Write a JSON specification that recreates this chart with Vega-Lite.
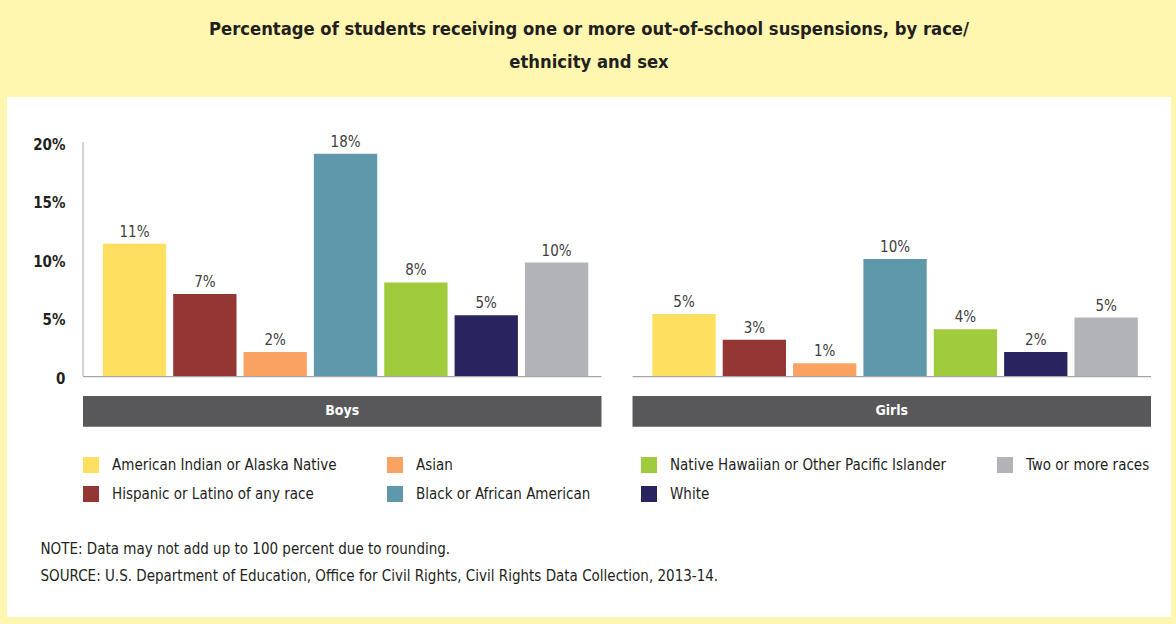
{
  "$schema": "https://vega.github.io/schema/vega-lite/v6.json",
  "width": 1176,
  "height": 624,
  "autosize": {"type": "fit", "contains": "padding"},
  "padding": {"left": 7, "right": 5, "top": 19, "bottom": 7},
  "background": "#FFF7AF",
  "title": {
    "text": ["Percentage of students receiving one or more out-of-school suspensions, by race/", "ethnicity and sex"],
    "fontSize": 18.25,
    "fontWeight": "bold",
    "font": "DejaVu Sans Condensed, Roboto, sans-serif",
    "color": "#231F20",
    "lineHeight": 33,
    "anchor": "middle",
    "offset": 25
  },
  "config": {
    "font": "DejaVu Sans Condensed, Roboto, sans-serif",
    "view": {"stroke": null, "fill": "white"}
  },
  "datasets": {
    "rates": [
      {"sex": "Boys", "race": "American Indian or Alaska Native", "value": 11.3, "label": "11%"},
      {"sex": "Boys", "race": "Hispanic or Latino of any race", "value": 7.0, "label": "7%"},
      {"sex": "Boys", "race": "Asian", "value": 2.05, "label": "2%"},
      {"sex": "Boys", "race": "Black or African American", "value": 19.0, "label": "18%"},
      {"sex": "Boys", "race": "Native Hawaiian or Other Pacific Islander", "value": 8.0, "label": "8%"},
      {"sex": "Boys", "race": "White", "value": 5.2, "label": "5%"},
      {"sex": "Boys", "race": "Two or more races", "value": 9.7, "label": "10%"},
      {"sex": "Girls", "race": "American Indian or Alaska Native", "value": 5.3, "label": "5%"},
      {"sex": "Girls", "race": "Hispanic or Latino of any race", "value": 3.1, "label": "3%"},
      {"sex": "Girls", "race": "Asian", "value": 1.1, "label": "1%"},
      {"sex": "Girls", "race": "Black or African American", "value": 10.0, "label": "10%"},
      {"sex": "Girls", "race": "Native Hawaiian or Other Pacific Islander", "value": 4.0, "label": "4%"},
      {"sex": "Girls", "race": "White", "value": 2.05, "label": "2%"},
      {"sex": "Girls", "race": "Two or more races", "value": 5.0, "label": "5%"}
    ],
    "panels": [{"sex": "Boys"}, {"sex": "Girls"}]
  },
  "layer": [
    {
      "data": {"name": "panels"},
      "mark": {"type": "rect", "color": "#58585A"},
      "encoding": {
        "x": {"field": "sex", "type": "nominal"},
        "y": {"datum": -1.7},
        "y2": {"datum": -4.33}
      }
    },
    {
      "data": {"name": "panels"},
      "mark": {"type": "text", "color": "white", "fontWeight": "bold", "fontSize": 14, "baseline": "middle"},
      "encoding": {
        "x": {"field": "sex", "type": "nominal"},
        "y": {"datum": -3.0},
        "text": {"field": "sex"}
      }
    },
    {
      "data": {"name": "panels"},
      "mark": {"type": "rect", "color": "#A6A6A6"},
      "encoding": {
        "x": {"field": "sex", "type": "nominal"},
        "y": {"datum": 0},
        "y2": {"datum": -0.1}
      }
    },
    {
      "data": {"values": [{"sex": "Boys"}]},
      "mark": {"type": "rule", "color": "#A6A6A6", "strokeWidth": 1},
      "encoding": {
        "x": {"datum": "Boys", "bandPosition": 0},
        "y": {"datum": 0},
        "y2": {"datum": 20}
      }
    },
    {
      "data": {"name": "rates"},
      "mark": {"type": "bar"},
      "encoding": {
        "x": {
          "field": "sex",
          "type": "nominal",
          "scale": {"domain": ["Boys", "Girls"], "range": [76, 1144], "paddingInner": 0.0565, "paddingOuter": 0},
          "axis": {
            "labels": false,
            "ticks": false,
            "domain": false,
            "title": ["NOTE: Data may not add up to 100 percent due to rounding.", "SOURCE: U.S. Department of Education, Office for Civil Rights, Civil Rights Data Collection, 2013-14."],
            "titleFontSize": 15,
            "titleFontWeight": "normal",
            "titleColor": "#231F20",
            "titleLineHeight": 27,
            "titleAnchor": null,
            "titleAlign": "left",
            "titleBaseline": "alphabetic",
            "titleX": 33,
            "titleY": -64
          }
        },
        "xOffset": {
          "field": "race",
          "type": "nominal",
          "scale": {
            "domain": ["American Indian or Alaska Native", "Hispanic or Latino of any race", "Asian", "Black or African American", "Native Hawaiian or Other Pacific Islander", "White", "Two or more races"],
            "paddingInner": 0.1,
            "paddingOuter": 0.235,
            "align": 0.6
          }
        },
        "y": {
          "field": "value",
          "type": "quantitative",
          "title": null,
          "scale": {"domain": [-20.6, 23.85], "nice": false, "zero": false},
          "axis": {
            "values": [0, 5, 10, 15, 20],
            "labelExpr": "datum.value == 0 ? '0' : datum.value + '%'",
            "offset": -58,
            "ticks": false,
            "tickSize": 0,
            "labelPadding": 0,
            "labelOffset": 2,
            "domain": false,
            "grid": false,
            "labelFontSize": 15,
            "labelFontWeight": "bold",
            "labelColor": "#231F20",
            "labelBaseline": "middle"
          }
        },
        "color": {
          "field": "race",
          "type": "nominal",
          "scale": {
            "domain": ["American Indian or Alaska Native", "Hispanic or Latino of any race", "Asian", "Black or African American", "Native Hawaiian or Other Pacific Islander", "White", "Two or more races"],
            "range": ["#FFDF5F", "#943634", "#F9A261", "#6098AB", "#A0CB3C", "#28245F", "#B2B3B6"]
          },
          "legend": {
            "title": null,
            "orient": "none",
            "legendX": 76,
            "legendY": 360,
            "columns": 4,
            "columnPadding": 50,
            "rowPadding": 13,
            "symbolType": "square",
            "symbolSize": 256,
            "symbolStrokeWidth": 0,
            "symbolOpacity": 1,
            "labelFontSize": 15,
            "labelColor": "#231F20",
            "labelOffset": 13,
            "labelLimit": 0,
            "padding": 0
          }
        }
      }
    },
    {
      "data": {"name": "rates"},
      "mark": {"type": "text", "baseline": "bottom", "dy": -4, "fontSize": 15, "color": "#404040"},
      "encoding": {
        "x": {"field": "sex", "type": "nominal"},
        "xOffset": {"field": "race", "type": "nominal"},
        "y": {"field": "value", "type": "quantitative"},
        "text": {"field": "label"}
      }
    }
  ]
}
